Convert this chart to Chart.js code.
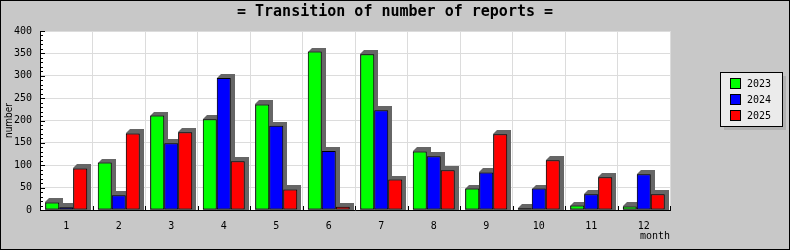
<!DOCTYPE html>
<html>
<head>
<meta charset="utf-8">
<script src="https://cdn.jsdelivr.net/npm/chart.js@4/dist/chart.umd.min.js"></script>
<style>
  html, body { margin: 0; padding: 0; background: #c8c8c8; }
  #wrap { width: 790px; height: 250px; }
</style>
</head>
<body>
<div id="wrap"><canvas id="c" width="790" height="250"></canvas></div>
<script>
const months = ['1','2','3','4','5','6','7','8','9','10','11','12'];
const seriesNames = ['2023', '2024', '2025'];
const values2023 = [17, 106, 211, 203, 236, 354, 348, 131, 48, 4, 10, 8];
const values2024 = [6, 33, 149, 295, 188, 132, 223, 120, 84, 48, 35, 80];
const values2025 = [93, 171, 174, 109, 46, 7, 68, 89, 169, 111, 73, 35];
const seriesColors = ['#00ff00', '#0000ff', '#ff0000'];
const chartTitle = '= Transition of number of reports =';
const yMin = 0, yMax = 400, yStep = 50, yMinorStep = 10;

const MONO = '"DejaVu Sans Mono", monospace';

const bgPlugin = {
  id: 'bg',
  beforeDraw(chart) {
    const {ctx, chartArea: a} = chart;
    ctx.save();
    ctx.fillStyle = '#c8c8c8';
    ctx.fillRect(0, 0, chart.width, chart.height);
    ctx.fillStyle = '#ffffff';
    ctx.fillRect(a.left, a.top, a.right - a.left, a.bottom - a.top);
    ctx.fillStyle = '#000';
    ctx.font = 'bold 15px ' + MONO;
    ctx.textAlign = 'center';
    ctx.textBaseline = 'middle';
    ctx.fillText(chartTitle, chart.width / 2, 12);
    ctx.restore();
  }
};

const shadowPlugin = {
  id: 'shadow',
  beforeDatasetsDraw(chart) {
    const ctx = chart.ctx;
    const d = 4;
    ctx.save();
    ctx.fillStyle = '#666666';
    chart.data.datasets.forEach((ds, i) => {
      const meta = chart.getDatasetMeta(i);
      meta.data.forEach(el => {
        const left = Math.round(el.x - el.width / 2);
        const right = Math.round(el.x + el.width / 2);
        const top = Math.round(el.y);
        const bottom = Math.round(el.base);
        ctx.beginPath();
        ctx.moveTo(left, top);
        ctx.lineTo(left + d, top - d);
        ctx.lineTo(right + d, top - d);
        ctx.lineTo(right + d, bottom);
        ctx.lineTo(left, bottom);
        ctx.closePath();
        ctx.fill();
      });
    });
    ctx.restore();
  }
};

const ticksPlugin = {
  id: 'innerTicks',
  afterDatasetsDraw(chart) {
    const {ctx, chartArea: a, scales} = chart;
    const ys = scales.y, xs = scales.x;
    ctx.save();
    ctx.strokeStyle = '#000';
    ctx.lineWidth = 1;
    ctx.beginPath();
    for (let v = yMin; v <= yMax; v += yMinorStep) {
      const py = Math.round(ys.getPixelForValue(v)) + 0.5;
      const len = (v % yStep === 0) ? 5 : 3;
      ctx.moveTo(a.left, py);
      ctx.lineTo(a.left + len, py);
    }
    for (let i = 0; i <= months.length; i++) {
      const px = Math.round(xs.getPixelForValue(i - 0.5)) + 0.5;
      ctx.moveTo(px, a.bottom);
      ctx.lineTo(px, a.bottom - 4);
    }
    ctx.stroke();
    ctx.restore();
  },
  afterDraw(chart) {
    const ctx = chart.ctx;
    ctx.save();
    const lx = 720, ly = 72, lw = 62, lh = 54;
    ctx.fillStyle = '#b0b0b0';
    ctx.fillRect(lx + 4, ly + 4, lw, lh);
    ctx.fillStyle = '#ebebeb';
    ctx.fillRect(lx, ly, lw, lh);
    ctx.strokeStyle = '#000';
    ctx.lineWidth = 1;
    ctx.strokeRect(lx + 0.5, ly + 0.5, lw, lh);
    ctx.font = '10px ' + MONO;
    ctx.textBaseline = 'middle';
    ctx.textAlign = 'left';
    chart.data.datasets.forEach((ds, i) => {
      const sy = ly + 6 + i * 16;
      ctx.fillStyle = ds.backgroundColor;
      ctx.fillRect(lx + 10, sy, 10, 10);
      ctx.strokeRect(lx + 10.5, sy + 0.5, 10, 10);
      ctx.fillStyle = '#000';
      ctx.fillText(ds.label, lx + 27, sy + 6);
    });
    ctx.strokeRect(0.5, 0.5, chart.width - 1, chart.height - 1);
    ctx.restore();
  }
};

new Chart(document.getElementById('c'), {
  type: 'bar',
  data: {
    labels: months,
    datasets: [
      { label: seriesNames[0], data: values2023, backgroundColor: seriesColors[0] },
      { label: seriesNames[1], data: values2024, backgroundColor: seriesColors[1] },
      { label: seriesNames[2], data: values2025, backgroundColor: seriesColors[2] }
    ].map(ds => Object.assign(ds, { borderColor: '#000', borderWidth: 1, borderSkipped: false,
        categoryPercentage: 0.8, barPercentage: 1.0 }))
  },
  options: {
    responsive: false,
    animation: false,
    events: [],
    layout: { padding: { left: 0, right: 120, top: 31, bottom: 0 } },
    plugins: {
      legend: { display: false },
      tooltip: { enabled: false },
      title: { display: false }
    },
    scales: {
      x: {
        grid: { color: '#dcdcdc', lineWidth: 1, drawTicks: false, offset: true },
        border: { color: '#000', width: 1 },
        ticks: { color: '#000', font: { family: MONO, size: 10 }, padding: 10, maxRotation: 0, autoSkip: false },
        title: {
          display: true, text: 'month', align: 'end', color: '#000',
          font: { family: MONO, size: 10, lineHeight: 1.2 },
          padding: { top: 0, bottom: 8 }
        },
        afterFit(scale) { scale.height = 40; }
      },
      y: {
        min: yMin, max: yMax,
        grid: { color: '#dcdcdc', lineWidth: 1, drawTicks: false },
        border: { color: '#000', width: 1 },
        ticks: { stepSize: yStep, color: '#000', font: { family: MONO, size: 10 }, padding: 8 },
        title: {
          display: true, text: 'number', color: '#000',
          font: { family: '"Liberation Sans Narrow", "DejaVu Sans Condensed", "Liberation Sans", sans-serif', size: 10, lineHeight: 1.2 },
          padding: { top: 3, bottom: 0 }
        },
        afterFit(scale) { scale.width = 40; }
      }
    }
  },
  plugins: [bgPlugin, shadowPlugin, ticksPlugin]
});
</script>
</body>
</html>
